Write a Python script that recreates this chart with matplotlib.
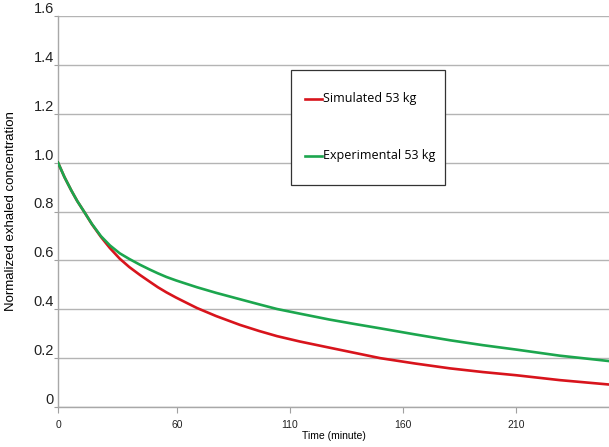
import matplotlib.pyplot as plt
from matplotlib.patches import Rectangle

# x in axis units (tick labels below are the category labels shown on the chart)
time_pos = [0, 2.9, 5.9, 8.5, 11.5, 15, 19, 23, 27.3, 31.5, 36.3, 40.7, 44.2, 48, 52.2, 56.5,
            61.5, 70, 80.5, 89, 96.9, 107, 120, 131, 142.5, 158, 173.5, 188, 202.7, 222, 243.8]
simulated = [1.0, 0.94, 0.886, 0.843, 0.8, 0.748, 0.696, 0.65, 0.607, 0.573, 0.54, 0.512, 0.49,
             0.469, 0.448, 0.428, 0.405, 0.372, 0.336, 0.311, 0.29, 0.268, 0.243, 0.222,
             0.2, 0.178, 0.158, 0.143, 0.13, 0.11, 0.092]
experimental = [1.0, 0.94, 0.886, 0.843, 0.8, 0.749, 0.699, 0.661, 0.629, 0.606, 0.582, 0.562,
                0.547, 0.532, 0.518, 0.505, 0.49, 0.467, 0.441, 0.42, 0.401, 0.382, 0.358, 0.34,
                0.322, 0.297, 0.273, 0.253, 0.235, 0.21, 0.188]
xtick_pos = [0, 52.6, 102.6, 152.6, 202.6]
xtick_labels = ['0', '60', '110', '160', '210']
yticks = [0, 0.2, 0.4, 0.6, 0.8, 1.0, 1.2, 1.4, 1.6]
ytick_labels = ['0', '0.2', '0.4', '0.6', '0.8', '1.0', '1.2', '1.4', '1.6']

plt.rcParams['font.family'] = ['Liberation Sans', 'DejaVu Sans']

fig = plt.figure(figsize=(6.09, 4.47), dpi=100)
ax = fig.add_axes([58 / 609, 40 / 447, 551 / 609, 391 / 447])

ax.plot(time_pos, simulated, color='#d8141c', lw=1.9, zorder=3)
ax.plot(time_pos, experimental, color='#1ca64e', lw=1.9, zorder=3)

ax.set_xlim(0, 243.8)
ax.set_ylim(0, 1.6)
ax.set_yticks(yticks)
ax.set_yticklabels(ytick_labels, fontsize=10.5, color='#222222')
for lab in ax.get_yticklabels():
    lab.set_va('bottom')
ax.set_xticks(xtick_pos)
ax.set_xticklabels(xtick_labels, fontsize=7.5, color='#222222')
ax.tick_params(axis='y', length=3, color='#a0a0a0', pad=0)
ax.tick_params(axis='x', length=4, color='#a0a0a0', pad=5)

ax.grid(axis='y', color='#b4b4b4', lw=1.0)
ax.set_axisbelow(True)
for side in ['top', 'right']:
    ax.spines[side].set_visible(False)
for side in ['left', 'bottom']:
    ax.spines[side].set_color('#a8a8a8')
    ax.spines[side].set_linewidth(1.0)

ax.set_ylabel('Normalized exhaled concentration', fontsize=9.5, labelpad=12)
ax.set_xlabel('Time (minute)', fontsize=7.5, labelpad=1)

# legend box
ax.add_patch(Rectangle((0.423, 0.569), 0.279, 0.293, transform=ax.transAxes,
                       facecolor='white', edgecolor='#333333', lw=0.9, zorder=4))
ax.plot([0.448, 0.480], [0.788, 0.788], transform=ax.transAxes, color='#d8141c', lw=1.9, zorder=5)
ax.plot([0.448, 0.480], [0.642, 0.642], transform=ax.transAxes, color='#1ca64e', lw=1.9, zorder=5)
ax.text(0.481, 0.788, 'Simulated 53 kg', transform=ax.transAxes, fontsize=9,
        va='center', ha='left', family='Open Sans', zorder=5)
ax.text(0.481, 0.642, 'Experimental 53 kg', transform=ax.transAxes, fontsize=9,
        va='center', ha='left', family='Open Sans', zorder=5)

fig.savefig('out.png', dpi=100)
